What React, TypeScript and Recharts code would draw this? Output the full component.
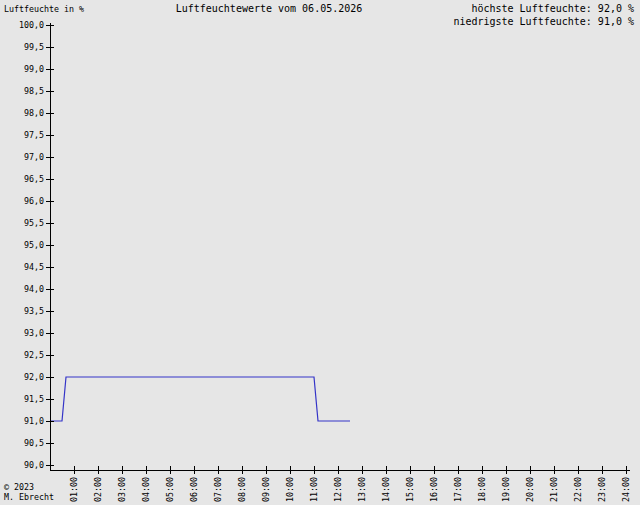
import React from "react";
import { LineChart, Line, XAxis, YAxis } from "recharts";

// Messzeitpunkte in Minuten nach Mitternacht und gemessene Luftfeuchte in %
const minutes = [0, 30, 40, 660, 670, 750];
const humidity = [91, 91, 92, 92, 91, 91];

const yTicks = [90, 90.5, 91, 91.5, 92, 92.5, 93, 93.5, 94, 94.5, 95, 95.5, 96, 96.5, 97, 97.5, 98, 98.5, 99, 99.5, 100];
const hourLabels = [
  "01:00", "02:00", "03:00", "04:00", "05:00", "06:00", "07:00", "08:00",
  "09:00", "10:00", "11:00", "12:00", "13:00", "14:00", "15:00", "16:00",
  "17:00", "18:00", "19:00", "20:00", "21:00", "22:00", "23:00", "24:00",
];
const xTicks = hourLabels.map((_, i) => (i + 1) * 60);

const title = "Luftfeuchtewerte vom 06.05.2026";
const maxText = "höchste Luftfeuchte: 92,0 %";
const minText = "niedrigste Luftfeuchte: 91,0 %";

const chartData = minutes.map((m, i) => ({ t: m, rh: humidity[i] }));

const FONT = "'DejaVu Sans Mono', monospace";
const BG = "#e6e6e6";

const fmt = (v: number) => v.toFixed(1).replace(".", ",");

const YTick = (props: any) => {
  const { x, y, payload } = props;
  return (
    <g>
      <line x1={x - 4} x2={x + 4} y1={y} y2={y} stroke="#000" shapeRendering="crispEdges" />
      <text x={x - 6} y={y} textAnchor="end" dominantBaseline="central" fontFamily={FONT} fontSize={8.3} fill="#000">
        {fmt(payload.value)}
      </text>
    </g>
  );
};

const XTick = (props: any) => {
  const { x, y, payload, index } = props;
  const label = hourLabels[index] ?? "";
  return (
    <g>
      <line x1={x} x2={x} y1={y - 4} y2={y + 4} stroke="#000" shapeRendering="crispEdges" />
      <text
        x={x}
        y={y + 7}
        transform={`rotate(-90 ${x} ${y + 7})`}
        textAnchor="end"
        dominantBaseline="central"
        fontFamily={FONT}
        fontSize={8.3}
        fill="#000"
      >
        {label || payload.value}
      </text>
    </g>
  );
};

export default function App() {
  return (
    <div style={{ position: "absolute", left: 0, top: 0, width: 640, height: 505, background: BG }}>
      <LineChart
        width={640}
        height={505}
        data={chartData}
        margin={{ top: 23, right: 10, left: 0, bottom: 0 }}
      >
        <XAxis
          type="number"
          dataKey="t"
          domain={[0, 1450]}
          ticks={xTicks}
          height={35}
          tickSize={0}
          tickMargin={0}
          tick={<XTick />}
          axisLine={{ stroke: "#000", shapeRendering: "crispEdges" }}
          tickLine={false}
          interval={0}
          allowDataOverflow
        />
        <YAxis
          type="number"
          domain={[90 - 5 / 44, 100 + 2 / 44]}
          ticks={yTicks}
          width={50}
          tickSize={0}
          tickMargin={0}
          tick={<YTick />}
          axisLine={{ stroke: "#000", shapeRendering: "crispEdges" }}
          tickLine={false}
          interval={0}
          allowDataOverflow
        />
        <Line
          type="linear"
          dataKey="rh"
          stroke="#3434c8"
          strokeWidth={1.2}
          dot={false}
          isAnimationActive={false}
        />
      </LineChart>
      <svg
        width={640}
        height={505}
        style={{ position: "absolute", left: 0, top: 0, pointerEvents: "none" }}
      >
        <text x={4} y={12} fontFamily={FONT} fontSize={8.3} fill="#000">
          Luftfeuchte in %
        </text>
        <text x={269} y={12} textAnchor="middle" fontFamily={FONT} fontSize={10} fill="#000">
          {title}
        </text>
        <text x={634} y={12} textAnchor="end" fontFamily={FONT} fontSize={10} fill="#000">
          {maxText}
        </text>
        <text x={634} y={25} textAnchor="end" fontFamily={FONT} fontSize={10} fill="#000">
          {minText}
        </text>
        <text x={4} y={490} fontFamily={FONT} fontSize={8.3} fill="#000">
          © 2023
        </text>
        <text x={4} y={500} fontFamily={FONT} fontSize={8.3} fill="#000">
          M. Ebrecht
        </text>
      </svg>
    </div>
  );
}
